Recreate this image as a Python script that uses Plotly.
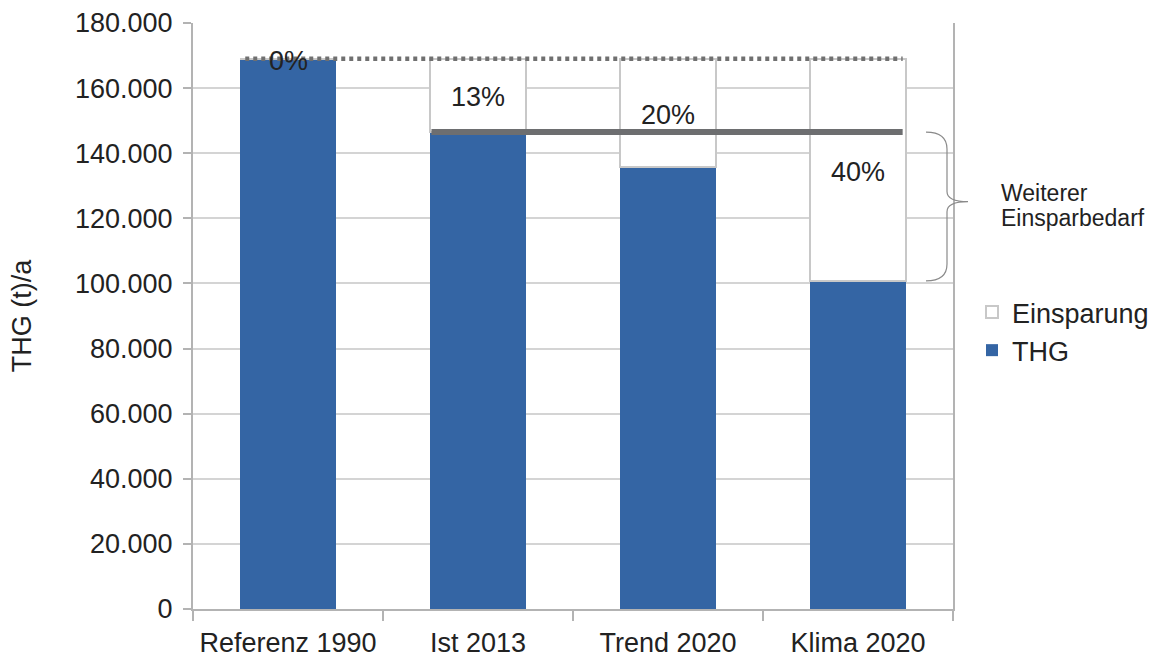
import plotly.graph_objects as go

# --- data ---
categories = ["Referenz 1990", "Ist 2013", "Trend 2020", "Klima 2020"]
thg = [169000, 146500, 135700, 100800]
reference_level = 169000
einsparung = [reference_level - v for v in thg]
pct_labels = [f"{round(e / reference_level * 100)}%" for e in einsparung]
brace_lines = ["Weiterer", "Einsparbedarf"]

BLUE = "#3465a4"
TEXT = "#222222"
AXIS = "#b3b3b3"
FONT = "Liberation Sans, Arial, sans-serif"
BAR_W = 0.51
FS = 27

fig = go.Figure()
fig.add_bar(
    x=categories, y=thg, name="THG",
    marker=dict(color=BLUE, line=dict(width=0)),
    width=BAR_W, legendgroup="thg",
)
fig.add_bar(
    x=categories, y=einsparung, name="Einsparung",
    marker=dict(color="white", line=dict(color="#c8c8c8", width=2)),
    width=BAR_W, legendgroup="ein",
)

# percentage labels centred on the savings segment
for cat, base, e, lab in zip(categories, thg, einsparung, pct_labels):
    fig.add_annotation(
        x=cat, y=base + e / 2, text=lab, showarrow=False,
        font=dict(size=FS, color=TEXT, family=FONT), yshift=-2,
    )

# reference level (dotted) and current level (solid)
fig.add_shape(
    type="line", xref="x", yref="y",
    x0=-BAR_W / 2 + 0.03, x1=3 + BAR_W / 2 - 0.02,
    y0=reference_level, y1=reference_level,
    line=dict(color="#707070", width=4.5, dash="4px,4px"), layer="above",
)
fig.add_shape(
    type="line", xref="x", yref="y",
    x0=1 - BAR_W / 2 + 0.01, x1=3 + BAR_W / 2 - 0.02,
    y0=thg[1], y1=thg[1],
    line=dict(color="#6d6e70", width=6), layer="above",
)

# curly brace spanning the remaining savings requirement
def px(xp):
    return (xp - 193) / 760.0

top, bot = thg[1], thg[3]
mid = (top + bot) / 2 + 1500
k = 5200  # curve height in data units
x0, x1, x2 = px(926), px(947), px(968)
path = (
    f"M {x0},{top} Q {x1},{top} {x1},{top - k} "
    f"L {x1},{mid + k * 0.6} Q {x1},{mid} {x2},{mid} "
    f"Q {x1},{mid} {x1},{mid - k * 0.6} "
    f"L {x1},{bot + k} Q {x1},{bot} {x0},{bot}"
)
fig.add_shape(
    type="path", xref="paper", yref="y", path=path,
    line=dict(color="#8a8a8a", width=1.2),
)
# two-line caption next to the brace, tight line spacing
for line_text, shift in zip(brace_lines, [9, -16]):
    fig.add_annotation(
        xref="paper", yref="y", x=px(999), y=mid, xanchor="left", yshift=shift,
        text=line_text, showarrow=False, align="left",
        font=dict(size=23, color=TEXT, family=FONT),
    )

fig.update_layout(
    width=1160, height=657,
    margin=dict(l=193, r=207, t=23, b=48, autoexpand=False),
    paper_bgcolor="white", plot_bgcolor="white",
    barmode="stack",
    separators=",.",
    font=dict(family=FONT, size=FS, color=TEXT),
    showlegend=True,
    legend=dict(
        xref="container", yref="container",
        x=972 / 1160, y=1 - 288 / 657, xanchor="left", yanchor="top",
        traceorder="reversed", tracegroupgap=12,
        font=dict(size=FS, color=TEXT, family=FONT),
        itemwidth=30, bgcolor="rgba(0,0,0,0)",
    ),
    xaxis=dict(
        type="category", tickson="boundaries", ticks="outside", ticklen=10,
        tickcolor=AXIS, tickwidth=2, showgrid=False, showline=True,
        linecolor=AXIS, linewidth=2, automargin=False, ticklabelstandoff=9,
        tickfont=dict(size=FS, color=TEXT, family=FONT),
    ),
    yaxis=dict(
        range=[0, 180000], dtick=20000, tickformat=",d",
        ticks="outside", ticklen=8, tickcolor=AXIS, tickwidth=2,
        showline=True, linecolor=AXIS, linewidth=2, mirror=True,
        gridcolor="#d4d4d4", gridwidth=2, zeroline=False, automargin=False,
        ticklabelstandoff=5,
        tickfont=dict(size=FS, color=TEXT, family=FONT),
        title=dict(text="THG (t)/a", standoff=36,
                   font=dict(size=FS, color=TEXT, family=FONT)),
    ),
)

fig.write_html("out.html")
